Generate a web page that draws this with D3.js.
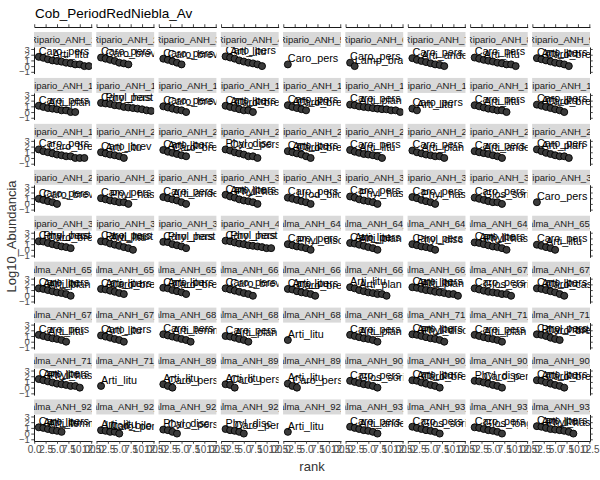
<!DOCTYPE html>
<html><head><meta charset="utf-8">
<script src="https://cdn.jsdelivr.net/npm/d3@7"></script>
<style>body{margin:0;background:#fff}svg{display:block}</style>
</head><body><svg id="chart" width="600" height="480"></svg>
<script>
const chartTitle = "Cob_PeriodRedNiebla_Av";
const xTitle = "rank";
const yTitle = "Log10_Abundancia";
const xTickValues = [0, 2.5, 5, 7.5, 10, 12.5];
const yTickValues = [-1, 0, 1, 2, 3];
const xDomain = [-0.05, 12.65];
const yDomain = [-1.3, 3.35];

const facetNames = [
  "Ripario_ANH_1","Ripario_ANH_2","Ripario_ANH_3","Ripario_ANH_4","Ripario_ANH_5","Ripario_ANH_6","Ripario_ANH_7","Ripario_ANH_8","Ripario_ANH_9",
  "Ripario_ANH_10","Ripario_ANH_11","Ripario_ANH_12","Ripario_ANH_13","Ripario_ANH_14","Ripario_ANH_15","Ripario_ANH_16","Ripario_ANH_17","Ripario_ANH_18",
  "Ripario_ANH_19","Ripario_ANH_20","Ripario_ANH_21","Ripario_ANH_22","Ripario_ANH_23","Ripario_ANH_24","Ripario_ANH_25","Ripario_ANH_26","Ripario_ANH_27",
  "Ripario_ANH_28","Ripario_ANH_29","Ripario_ANH_30","Ripario_ANH_31","Ripario_ANH_32","Ripario_ANH_33","Ripario_ANH_34","Ripario_ANH_35","Ripario_ANH_36",
  "Ripario_ANH_37","Ripario_ANH_38","Ripario_ANH_39","Ripario_ANH_40","Palma_ANH_64_1","Palma_ANH_64_2","Palma_ANH_64_3","Palma_ANH_64_4","Palma_ANH_65_1",
  "Palma_ANH_65_2","Palma_ANH_65_3","Palma_ANH_65_4","Palma_ANH_66_1","Palma_ANH_66_2","Palma_ANH_66_3","Palma_ANH_66_4","Palma_ANH_67_1","Palma_ANH_67_2",
  "Palma_ANH_67_3","Palma_ANH_67_4","Palma_ANH_68_1","Palma_ANH_68_2","Palma_ANH_68_3","Palma_ANH_68_4","Palma_ANH_71_1","Palma_ANH_71_2","Palma_ANH_71_3",
  "Palma_ANH_71_4","Palma_ANH_71_5","Palma_ANH_89_1","Palma_ANH_89_2","Palma_ANH_89_3","Palma_ANH_90_1","Palma_ANH_90_2","Palma_ANH_90_3","Palma_ANH_90_4",
  "Palma_ANH_92_1","Palma_ANH_92_2","Palma_ANH_92_3","Palma_ANH_92_4","Palma_ANH_92_5","Palma_ANH_93_1","Palma_ANH_93_2","Palma_ANH_93_3","Palma_ANH_93_4"
];

// log10 abundance by rank (rank = position + 1)
const rankAbund = [
  [1.62,1.45,1.2,1.0,0.9,0.78,0.6,0.48,0.3,0.3,0,0],
  [1.5,1.3,1.1,0.9,0.6,0.48,0.3],
  [1.3,1.1,0.85,0.6,0.3],
  [1.7,1.5,1.3,1.0,0.8,0.6,0.48,0.3,0],
  [0.3],
  [0.6,0],
  [1.4,1.1,0.9,0.7,0.5,0.3,0.2,0],
  [1.5,1.3,1.1,0.95,0.8,0.6,0.48,0.3,0.3,0],
  [1.4,1.2,1.0,0.8,0.6,0.48,0.3,0],

  [1.1,0.9,0.7,0.6,0.48,0.3,0.3,0,0],
  [1.6,1.5,1.4,1.2,1.1,0.9,0.8,0.7,0.6,0.48,0.3,0.2],
  [1.0,0.8,0.6,0.4,0.3,0],
  [1.1,0.9,0.7,0.5,0.3,0.3,0],
  [1.2,0.9,0.7,0.5,0.3],
  [1.3,1.2,1.0,0.9,0.8,0.7,0.6,0.5,0.48,0.3,0.3,0],
  [0.6,0.3],
  [1.2,1.0,0.8,0.6,0.48,0.3,0.3,0],
  [1.3,1.1,0.9,0.7,0.48,0.3,0],

  [1.5,1.2,1.0,0.8,0.6,0.48,0.3,0.3,0,0,0],
  [1.0,0.8,0.6,0.48,0.3,0],
  [1.4,1.1,0.9,0.7,0.48,0.3],
  [1.5,1.3,1.0,0.8,0.6,0.3,0.3,0],
  [1.2,1.0,0.8,0.6,0.3,0],
  [1.4,1.1,0.9,0.7,0.6,0.48,0.3,0],
  [1.3,1.0,0.8,0.6,0.48,0.3,0.3,0],
  [1.2,1.0,0.85,0.7,0.48,0.3,0],
  [1.5,1.2,0.9,0.7,0.48,0.3,0.3,0],

  [0.9,0.7,0.48,0.3,0],
  [1.0,0.8,0.6,0.48,0.3,0.3,0],
  [1.2,1.0,0.8,0.6,0.3,0],
  [1.6,1.3,1.1,0.8,0.6,0.48,0.3,0],
  [1.1,0.9,0.7,0.48,0.3,0],
  [1.3,1.1,0.8,0.6,0.48,0.3,0],
  [1.2,1.0,0.7,0.48,0.3,0],
  [1.1,0.9,0.7,0.48,0.3,0.3,0],
  [0.3],

  [1.5,1.45,1.2,1.0,0.8,0.6,0.48,0.3],
  [1.5,1.4,1.1,0.9,0.7,0.48,0.3,0],
  [1.4,1.35,1.0,0.8,0.6,0.3],
  [1.6,1.5,1.3,1.1,1.0,0.8,0.7,0.6,0.48,0.3,0.3],
  [1.0,0.8,0.6,0.48,0.3,0],
  [1.2,1.1,0.9,0.7,0.48,0.3,0],
  [1.0,0.8,0.6,0.48,0.3,0],
  [1.3,1.2,1.0,0.8,0.6,0.48,0.3,0],
  [0.9,0.7,0.48,0.3,0],

  [1.3,1.2,1.0,0.8,0.6,0.48,0.3,0],
  [1.2,1.1,0.9,0.7,0.48,0.3],
  [1.4,1.3,1.0,0.8,0.6,0.3],
  [1.3,1.1,0.9,0.7,0.48,0.3,0],
  [1.2,1.1,0.8,0.6,0.48,0.3,0],
  [1.5,1.3,1.0,0.8,0.6,0.48,0.3,0.3,0],
  [1.5,1.4,1.2,1.0,0.9,0.7,0.6,0.48,0.3,0.3,0],
  [1.3,1.1,0.9,0.7,0.6,0.48,0.3,0.3,0],
  [1.3,1.2,1.0,0.8,0.6,0.3,0],

  [1.2,1.0,0.8,0.6,0.48,0.3,0],
  [1.1,0.9,0.7,0.48,0.3,0],
  [1.3,1.1,0.9,0.7,0.48,0.3,0],
  [1.0,0.9,0.7,0.48,0.3,0],
  [0.3],
  [1.2,1.0,0.8,0.6,0.48,0.3,0],
  [1.3,1.2,1.0,0.8,0.6,0.48,0.3,0],
  [1.2,1.0,0.8,0.6,0.48,0.3,0],
  [1.3,1.2,1.0,0.7,0.48,0.3],

  [1.5,1.3,1.1,0.9,0.7,0.6,0.48,0.3,0.3,0],
  [0.3],
  [0.6,0.3,0],
  [0.6,0.48,0],
  [0.7,0.3,0],
  [1.2,1.0,0.8,0.6,0.48,0.3,0],
  [1.3,1.2,0.9,0.7,0.48,0.3,0],
  [1.2,1.1,0.9,0.7,0.48,0.3,0],
  [1.3,1.2,0.9,0.7,0.48,0.3,0],

  [1.1,1.0,0.8,0.6,0.48,0.3],
  [0.6,0.48,0.3,0.3,0],
  [0.7,0.6,0.3,0],
  [0.8,0.6,0.48,0.3,0],
  [0.3],
  [1.2,1.0,0.8,0.6,0.48,0.3,0],
  [1.2,1.0,0.8,0.6,0.48,0.3,0],
  [1.1,1.0,0.8,0.6,0.48,0.3,0],
  [1.3,1.2,1.0,0.8,0.7,0.6,0.48,0.3,0]
];

const labelSpecies = [
  ["Caro_pers","Arti_litu"],["Caro_pers","Caro_brev"],["Caro_pers","Caro_brev"],["Caro_pers","Arti_litu"],["Caro_pers"],["Caro_pers","Lamp_brac"],["Caro_pers","Arti_ande"],["Caro_pers","Arti_litu"],["Caro_pers","Arti_litu","Caro_brev"],
  ["Caro_pers","Arti_plan"],["Caro_pers","Phyl_hast"],["Caro_pers","Caro_brev"],["Caro_pers","Arti_litu","Caro_brev"],["Caro_pers","Arti_litu","Caro_brev"],["Caro_pers","Arti_plan"],["Caro_pers","Arti_litu"],["Caro_pers","Arti_litu"],["Caro_pers","Arti_litu","Caro_brev"],
  ["Caro_pers","Caro_brev"],["Caro_brev","Arti_litu"],["Caro_pers","Arti_litu","Caro_brev"],["Phyl_disc","Caro_pers"],["Caro_pers","Arti_litu","Caro_brev"],["Caro_pers","Arti_litu"],["Caro_pers","Arti_plan"],["Caro_pers","Arti_ande"],["Caro_pers","Arti_plan"],
  ["Caro_pers","Caro_brev"],["Caro_pers","Phyl_hast"],["Caro_pers","Arti_ande"],["Caro_pers","Arti_litu","Phyl_hast"],["Caro_pers","Urod_bilo"],["Caro_pers","Phyl_hast"],["Caro_pers","Phyl_hast"],["Caro_pers","Glos_sori"],["Caro_pers"],
  ["Caro_pers","Phyl_hast","Caro_brev"],["Caro_pers","Phyl_hast","Arti_litu"],["Caro_pers","Phyl_hast"],["Caro_pers","Phyl_hast"],["Caro_pers","Phyl_disc"],["Caro_pers","Arti_litu","Arti_plan"],["Caro_pers","Phyl_disc"],["Caro_pers","Arti_litu","Phyl_hast"],["Caro_pers","Arti_litu"],
  ["Caro_pers","Arti_litu","Arti_plan"],["Caro_pers","Arti_litu","Caro_brev"],["Caro_pers","Arti_litu","Caro_brev"],["Caro_pers","Caro_brev"],["Caro_pers","Arti_litu","Caro_brev"],["Arti_litu","Arti_plan"],["Caro_pers","Arti_litu","Arti_plan"],["Caro_pers","Glos_sori"],["Caro_pers","Arti_litu","Caro_cast"],
  ["Caro_pers","Arti_litu"],["Caro_pers","Arti_litu"],["Caro_pers","Arti_temm"],["Caro_pers","Arti_plan"],["Arti_litu"],["Caro_pers","Arti_plan"],["Caro_pers","Arti_litu","Phyl_disc"],["Caro_pers","Arti_plan"],["Caro_pers","Phyl_hast","Caro_brev"],
  ["Caro_pers","Arti_litu","Phyl_hast"],["Arti_litu"],["Arti_litu","Caro_pers"],["Arti_litu","Caro_pers"],["Arti_litu","Caro_pers"],["Caro_pers","Glos_sori"],["Caro_pers","Arti_litu","Caro_brev"],["Phyl_disc","Caro_pers"],["Caro_pers","Arti_litu","Caro_brev"],
  ["Caro_pers","Arti_litu","Arti_temm"],["Arti_litu","Urod_bilo","Caro_pers"],["Phyl_disc","Caro_pers"],["Phyl_disc","Caro_pers"],["Arti_litu"],["Caro_pers","Arti_ande"],["Caro_pers","Glos_sori"],["Caro_pers","Glos_longi"],["Caro_pers","Arti_litu","Phyl_hast"]
];
const labelRanks = [
  [1,4],[1,2],[1,2],[1,2],[1],[1,2],[1,3],[1,3],[1,2,3],
  [1,3],[1,2],[1,2],[1,2,3],[1,2,3],[1,3],[1,2],[1,3],[1,2,3],
  [1,3],[1,2],[1,2,3],[1,2],[1,2,3],[1,3],[1,3],[1,3],[1,2],
  [1,2],[1,3],[1,3],[1,2,3],[1,3],[1,3],[1,3],[1,3],[1],
  [1,2,3],[1,2,3],[1,2],[1,2],[1,3],[1,2,3],[1,2],[1,2,3],[1,3],
  [1,2,3],[1,2,3],[1,2,3],[1,2],[1,2,3],[1,3],[1,2,3],[1,3],[1,2,3],
  [1,3],[1,2],[1,3],[1,3],[1],[1,3],[1,2,3],[1,3],[1,2,3],
  [1,2,3],[1],[1,2],[1,2],[1,2],[1,3],[1,2,3],[1,3],[1,2,3],
  [1,2,3],[1,2,3],[1,2],[1,3],[1],[1,3],[1,3],[1,3],[1,2,3]
];

const FONT = "'Liberation Sans', Arial, Helvetica, sans-serif";
const svg = d3.select("#chart").style("font-family", FONT);
const nCol = 9, nRow = 9;
const L = 34, R = 590, T = 32, B = 441, gapX = 4.4, gapY = 4.4, stripH = 15;
const pw = (R - L - gapX * (nCol - 1)) / nCol;
const cellH = (B - T - gapY * (nRow - 1)) / nRow;
const ph = cellH - stripH;

const x = d3.scaleLinear().domain(xDomain).range([0, pw]);
const y = d3.scaleLinear().domain(yDomain).range([ph, 0]);
const defs = svg.append("defs");
defs.append("clipPath").attr("id", "stripClip").append("rect").attr("width", pw).attr("height", stripH);
defs.append("clipPath").attr("id", "panelClip").append("rect").attr("width", pw).attr("height", ph);

function styleAxis(g, fs) {
  g.selectAll(".domain").attr("stroke", "#000").attr("stroke-width", 0.9);
  g.selectAll(".tick line").attr("stroke", "#333").attr("stroke-width", 0.9);
  g.selectAll(".tick text").attr("fill", "#4d4d4d").style("font-size", fs).style("font-family", FONT);
}

facetNames.forEach((name, i) => {
  const r = Math.floor(i / nCol), c = i % nCol;
  const px = L + c * (pw + gapX);
  const sy = T + r * (cellH + gapY);
  const py = sy + stripH;

  const sg = svg.append("g").attr("transform", `translate(${px},${sy})`);
  sg.append("rect").attr("width", pw).attr("height", stripH).attr("fill", "#d9d9d9");
  sg.append("g").attr("clip-path", "url(#stripClip)")
    .append("text").attr("x", pw / 2).attr("y", stripH / 2 + 3.4)
    .attr("text-anchor", "middle").attr("fill", "#1a1a1a").style("font-size", "9.5px").text(name);

  const pg = svg.append("g").attr("transform", `translate(${px},${py})`);
  const inner = pg.append("g").attr("clip-path", "url(#panelClip)");
  const pts = rankAbund[i].map((v, k) => ({ rank: k + 1, v }));
  inner.selectAll("circle").data(pts).join("circle")
    .attr("cx", d => x(d.rank)).attr("cy", d => y(d.v)).attr("r", 3.5)
    .attr("fill", "#3a3a3a").attr("stroke", "#000").attr("stroke-width", 0.9);
  const labs = labelSpecies[i].map((s, j) => ({ s, rank: labelRanks[i][j], v: rankAbund[i][labelRanks[i][j] - 1] }));
  inner.selectAll("text.lab").data(labs).join("text").attr("class", "lab")
    .attr("x", d => x(d.rank)).attr("y", d => y(d.v) - 2.2)
    .attr("fill", "#000").style("font-size", "10.8px").text(d => d.s);

  if (c === 0) {
    const ay = pg.append("g").call(d3.axisLeft(y).tickValues(yTickValues).tickSize(2.75).tickPadding(1.5).tickSizeOuter(0).tickFormat(d3.format("d")));
    styleAxis(ay, "9.5px");
  }
  if (c === nCol - 1) {
    const ay2 = pg.append("g").attr("transform", `translate(${pw},0)`)
      .call(d3.axisRight(y).tickValues(yTickValues).tickSize(2.75).tickSizeOuter(0).tickFormat(""));
    styleAxis(ay2, "9.5px");
  }
  if (r === nRow - 1) {
    const ax = pg.append("g").attr("transform", `translate(0,${ph})`)
      .call(d3.axisBottom(x).tickValues(xTickValues).tickSize(2.75).tickPadding(2).tickSizeOuter(0).tickFormat(d3.format(".1f")));
    styleAxis(ax, "10px");
  }
  if (r === 0) {
    const ax2 = svg.append("g").attr("transform", `translate(${px},${sy - 5})`)
      .call(d3.axisTop(x).tickValues(xTickValues).tickSize(2.75).tickSizeOuter(0).tickFormat(""));
    styleAxis(ax2, "10px");
  }
});

svg.append("text").attr("x", L + 1).attr("y", 18).attr("fill", "#000").style("font-size", "13.5px").text(chartTitle);
svg.append("text").attr("x", (L + R) / 2).attr("y", 471).attr("text-anchor", "middle").attr("fill", "#333").style("font-size", "13px").text(xTitle);
svg.append("text").attr("transform", `translate(16,${(T + B) / 2}) rotate(-90)`).attr("text-anchor", "middle").attr("fill", "#333").style("font-size", "13px").text(yTitle);
</script></body></html>
